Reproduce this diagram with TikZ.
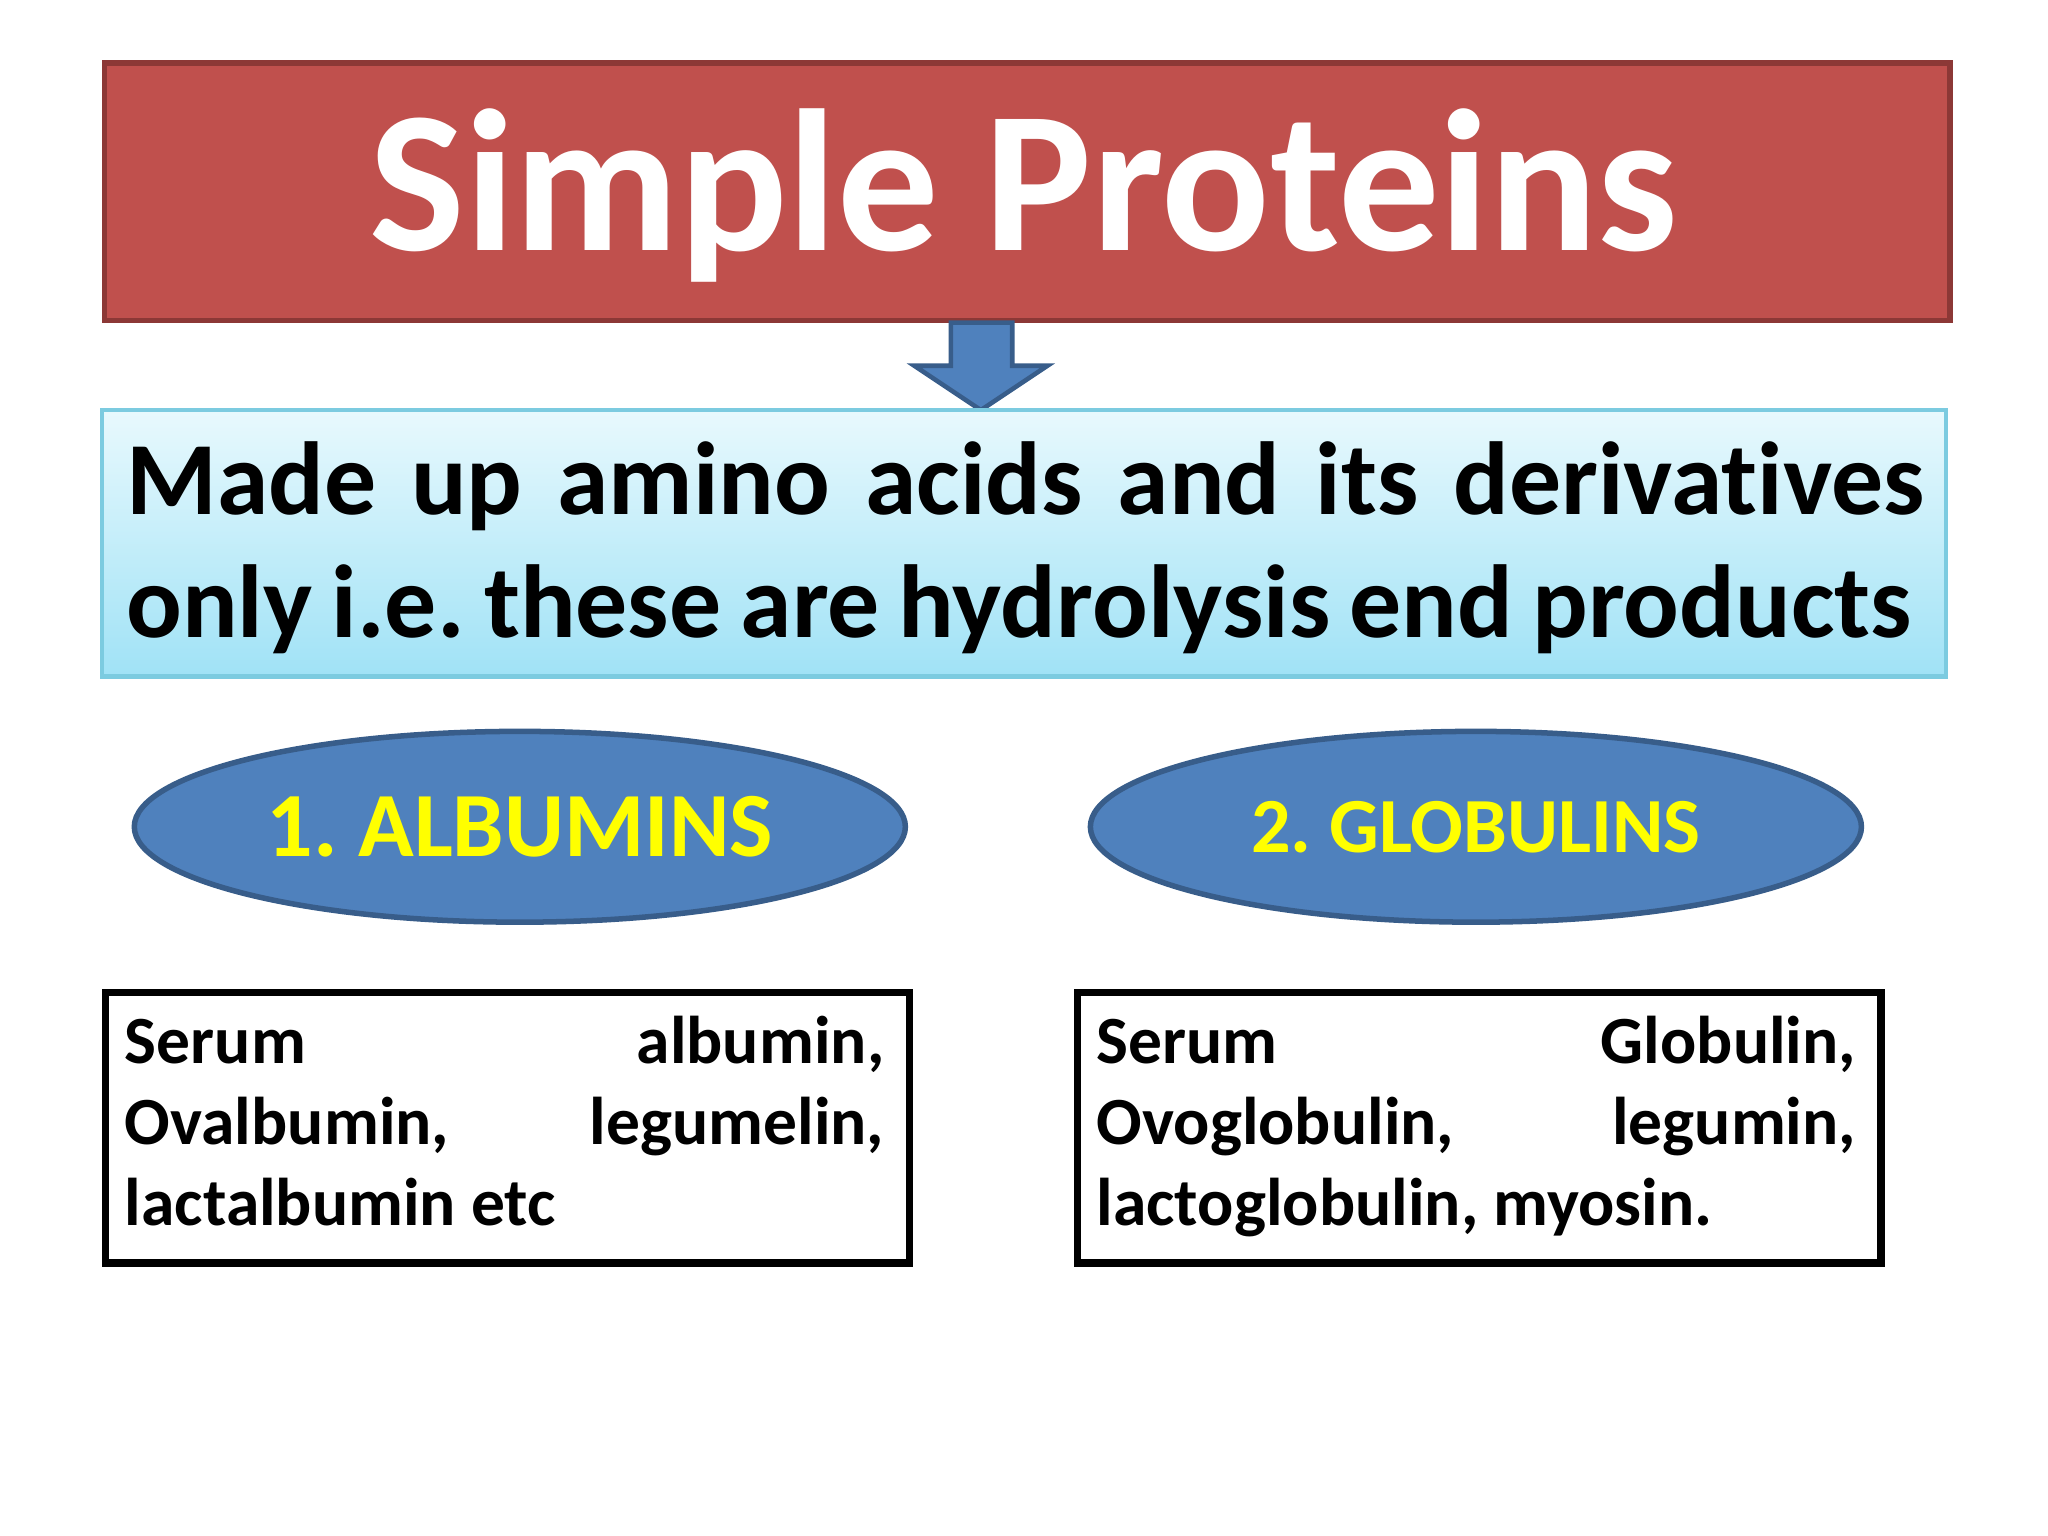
\documentclass[tikz,border=0pt]{standalone}
\usepackage{fontspec}
\setmainfont{Carlito}[RawFeature={-liga}]
\usetikzlibrary{shapes.geometric}
\definecolor{tred}{HTML}{C0504D}
\definecolor{tredb}{HTML}{8C3836}
\definecolor{bl}{HTML}{4F81BD}
\definecolor{blb}{HTML}{385D8A}
\definecolor{cyt}{HTML}{E8F9FD}
\definecolor{cyb}{HTML}{A0E2F6}
\definecolor{cyl}{HTML}{7CCBE0}
\definecolor{yl}{HTML}{FFFF00}
\tikzset{
 ell/.style={ellipse,fill=bl,draw=blb,line width=1.2pt,inner sep=0,minimum width=5.9cm,minimum height=1.46cm,text=yl,font=\bfseries\fontsize{20}{24}\selectfont},
 exbox/.style={draw=black,line width=1.6pt,minimum width=6.15cm,minimum height=2.07cm,anchor=north west},
 ln/.style={anchor=base west,inner sep=0,font=\bfseries\fontsize{14.7}{18}\selectfont},
 bln/.style={anchor=base west,inner sep=0,font=\bfseries\fontsize{22.6}{27}\selectfont}
}
\begin{document}
\begin{tikzpicture}[x=0.01cm,y=-0.01cm]
\useasboundingbox (0,0) rectangle (1568,1176);
\fill[white] (0,0) rectangle (1568,1176);
% title
\node[draw=tredb,fill=tred,line width=1.2pt,minimum width=14.12cm,minimum height=1.97cm,anchor=north west,inner sep=0] (title) at (78,46) {};
\node[text=white,font=\bfseries\fontsize{44}{50}\selectfont] at (784,150) {Simple Proteins};
% arrow
\coordinate (tip) at (751,314);
\filldraw[fill=bl,draw=blb,line width=1pt] (728,247) -- (775,247) -- (775,280) -- (802,280) -- (tip) -- (700,280) -- (728,280) -- cycle;
% cyan box
\shade[top color=cyt,bottom color=cyb,draw=cyl,line width=1pt] (78,314) rectangle (1490,518);
\node (desc) at (784,416) {};
\node[bln] at (96,394) {\makebox[13.76cm][s]{Made up amino acids and its derivatives}};
\node[bln] at (96,488) {\makebox[13.66cm][s]{only i.e.\ these are hydrolysis end products}};
% ellipses
\node[ell] (alb) at (398,633) {1.\ ALBUMINS};
\node[ell,font=\bfseries\fontsize{17}{20}\selectfont] (glo) at (1130,633) {2.\ GLOBULINS};
% boxes
\node[exbox] (b1) at (78,757) {};
\node[exbox] (b2) at (822,757) {};
\node[ln] at (95,814) {\makebox[5.81cm][s]{Serum\hfill albumin,}};
\node[ln] at (95,876) {\makebox[5.81cm][s]{Ovalbumin,\hfill legumelin,}};
\node[ln] at (95,938) {lactalbumin etc};
\node[ln] at (839,814) {\makebox[5.81cm][s]{Serum\hfill Globulin,}};
\node[ln] at (839,876) {\makebox[5.81cm][s]{Ovoglobulin,\hfill legumin,}};
\node[ln] at (839,938) {lactoglobulin, myosin.};
\end{tikzpicture}
\end{document}
